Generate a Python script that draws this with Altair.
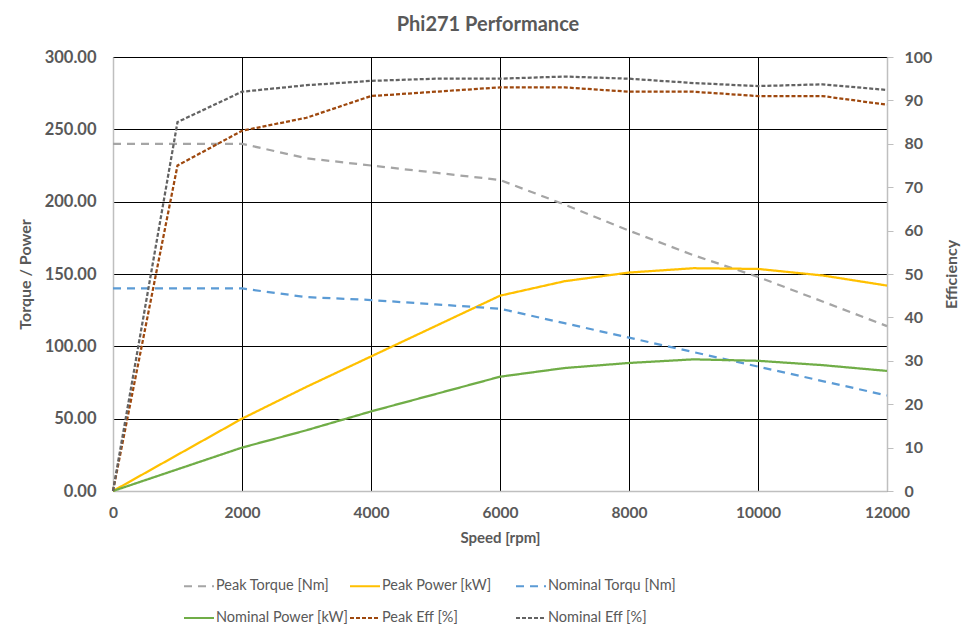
import altair as alt
import pandas as pd

speed = [0, 1000, 2000, 3000, 4000, 5000, 6000, 7000, 8000, 9000, 10000, 11000, 12000]
peak_torque = [240, 240, 240, 230, 225, 220, 215, 198, 180, 163, 148, 131, 114]
peak_power = [0, 25, 50, 72, 93, 114, 135, 145, 151, 154, 153.5, 149, 142]
nominal_torque = [140, 140, 140, 134, 132, 129, 126, 116, 106, 96, 86, 76, 66]
nominal_power = [0, 15, 30, 42, 55, 67, 79, 85, 88.5, 91, 90, 87, 83]
peak_eff = [0, 75, 83, 86, 91, 92, 93, 93, 92, 92, 91, 91, 89]
nominal_eff = [0, 85, 92, 93.5, 94.5, 95, 95, 95.5, 95, 94, 93.3, 93.7, 92.4]

series_names = ["Peak Torque [Nm]", "Peak Power [kW]", "Nominal Torqu [Nm]",
                "Nominal Power [kW]", "Peak Eff [%]", "Nominal Eff [%]"]
series_colors = ["#A5A5A5", "#FFC000", "#5B9BD5", "#70AD47", "#9E480E", "#636363"]
series_dash = [[8, 6], [1, 0], [8, 6], [1, 0], [4, 2], [4, 2]]

left_series = {"Peak Torque [Nm]": peak_torque, "Peak Power [kW]": peak_power,
               "Nominal Torqu [Nm]": nominal_torque, "Nominal Power [kW]": nominal_power}
right_series = {"Peak Eff [%]": peak_eff, "Nominal Eff [%]": nominal_eff}


def to_long(d):
    rows = []
    for name, vals in d.items():
        for s, v in zip(speed, vals):
            rows.append({"speed": s, "value": v, "series": name})
    return pd.DataFrame(rows)


left_df = to_long(left_series)
right_df = to_long(right_series)

FONT = "Lato"
TXT = "#595959"


def make_legend():
    return alt.Legend(title=None, orient="none", legendX=70, legendY=513,
                      direction="horizontal", columns=3, gridAlign="all",
                      symbolType="stroke", symbolSize=900,
                      symbolStrokeWidth=2, labelFont=FONT, labelFontSize=14.5,
                      labelColor=TXT, labelOffset=1, columnPadding=-4,
                      rowPadding=9, labelLimit=300)


color = alt.Color("series:N", sort=series_names,
                  scale=alt.Scale(domain=series_names, range=series_colors),
                  legend=make_legend())
dash = alt.StrokeDash("series:N", sort=series_names,
                      scale=alt.Scale(domain=series_names, range=series_dash),
                      legend=make_legend())

x = alt.X("speed:Q", title="Speed [rpm]",
          scale=alt.Scale(domain=[0, 12000], nice=False),
          axis=alt.Axis(values=[0, 2000, 4000, 6000, 8000, 10000, 12000], format="d",
                        grid=True, gridColor="black", gridWidth=1, ticks=False,
                        domainColor="#BFBFBF", domainWidth=1.5, labelPadding=14,
                        labelFlush=False,
                        labelFont=FONT, labelFontSize=15.5, labelFontWeight="bold",
                        labelColor=TXT, titleFont=FONT, titleFontSize=15,
                        titleFontWeight="bold", titleColor=TXT, titlePadding=10))

left = alt.Chart(left_df).mark_line(strokeWidth=2.25).encode(
    x=x,
    y=alt.Y("value:Q", title="Torque / Power",
            scale=alt.Scale(domain=[0, 300], nice=False),
            axis=alt.Axis(values=[0, 50, 100, 150, 200, 250, 300], format=".2f",
                          grid=True, gridColor="black", gridWidth=1, ticks=False,
                          domainColor="#BFBFBF", domainWidth=1.5, labelPadding=17,
                          labelFlush=False,
                          labelFont=FONT, labelFontSize=16.5, labelFontWeight="bold",
                          labelColor=TXT, titleFont=FONT, titleFontSize=16,
                          titleFontWeight="bold", titleColor=TXT, titlePadding=11)),
    color=color,
    strokeDash=dash,
)

right = alt.Chart(right_df).mark_line(strokeWidth=2.25).encode(
    x=x,
    y=alt.Y("value:Q", title="Efficiency",
            scale=alt.Scale(domain=[0, 100], nice=False),
            axis=alt.Axis(orient="right", values=list(range(0, 101, 10)), grid=False,
                          ticks=True, tickSize=6, tickColor="#BFBFBF", domainColor="#BFBFBF",
                          domainWidth=1.5, labelPadding=11, labelFlush=False,
                          labelFont=FONT, labelFontSize=16,
                          labelFontWeight="bold", labelColor=TXT, titleFont=FONT,
                          titleFontSize=16, titleFontWeight="bold", titleColor=TXT,
                          titleAngle=270, titlePadding=28)),
    color=color,
    strokeDash=dash,
)

chart = alt.layer(left, right).resolve_scale(y="independent").properties(
    width=774, height=434,
    title=alt.TitleParams("Phi271 Performance", font=FONT, fontSize=20, fontWeight="bold",
                          color=TXT, anchor="middle", dx=-12, offset=14),
    autosize=alt.AutoSizeParams(type="none"),
    padding={"left": 105, "top": 49, "right": 82, "bottom": 139},
).configure_view(stroke=None).configure(background="white")

chart.save("out.html", embed_options={"renderer": "svg", "actions": False})
